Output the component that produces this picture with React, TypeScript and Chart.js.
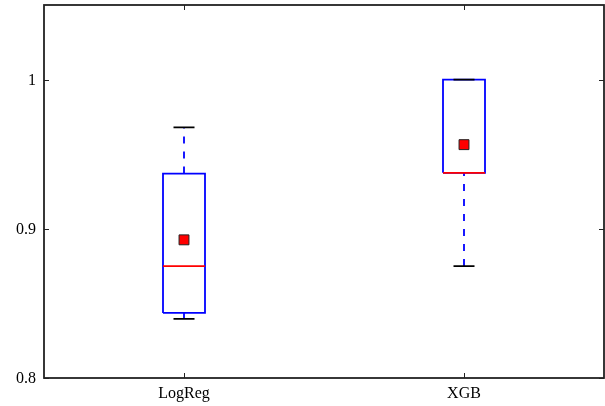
import React, { useEffect, useRef } from "react";
import { Chart, registerables } from "chart.js";

Chart.register(...registerables);

const categories = ["LogReg", "XGB"];
const positions = [1, 2];
const whiskerLow = [0.8396, 0.875];
const q1 = [0.8436, 0.9375];
const medians = [0.875, 0.9375];
const q3 = [0.937, 1.0];
const whiskerHigh = [0.968, 1.0];
const means = [0.8926, 0.9564];
const yTickValues = [0.8, 0.9, 1];
const yTickLabels = ["0.8", "0.9", "1"];

const BOX_HALF = 0.075;
const CAP_HALF = 0.0375;
const FONT = "'Liberation Serif', 'DejaVu Serif', serif";
const AXIS_COLOR = "#222222";

type P = { x: number; y: number | null };

const gap = (x: number): P => ({ x, y: null });

function buildBoxes(): P[] {
  const pts: P[] = [];
  positions.forEach((x, i) => {
    pts.push({ x: x - BOX_HALF, y: q1[i] });
    pts.push({ x: x + BOX_HALF, y: q1[i] });
    pts.push({ x: x + BOX_HALF, y: q3[i] });
    pts.push({ x: x - BOX_HALF, y: q3[i] });
    pts.push({ x: x - BOX_HALF, y: q1[i] });
    pts.push(gap(x));
  });
  return pts;
}

function buildWhiskers(): P[] {
  const pts: P[] = [];
  positions.forEach((x, i) => {
    pts.push({ x, y: q3[i] });
    pts.push({ x, y: whiskerHigh[i] });
    pts.push(gap(x));
    pts.push({ x, y: whiskerLow[i] });
    pts.push({ x, y: q1[i] });
    pts.push(gap(x));
  });
  return pts;
}

function buildCaps(): P[] {
  const pts: P[] = [];
  positions.forEach((x, i) => {
    pts.push({ x: x - CAP_HALF, y: whiskerHigh[i] });
    pts.push({ x: x + CAP_HALF, y: whiskerHigh[i] });
    pts.push(gap(x));
    pts.push({ x: x - CAP_HALF, y: whiskerLow[i] });
    pts.push({ x: x + CAP_HALF, y: whiskerLow[i] });
    pts.push(gap(x));
  });
  return pts;
}

function buildMedians(): P[] {
  const pts: P[] = [];
  positions.forEach((x, i) => {
    pts.push({ x: x - BOX_HALF, y: medians[i] });
    pts.push({ x: x + BOX_HALF, y: medians[i] });
    pts.push(gap(x));
  });
  return pts;
}

const framePlugin = {
  id: "mplFrame",
  afterDatasetsDraw(chart: any) {
    const { ctx, chartArea, scales } = chart;
    const { left, right, top, bottom } = chartArea;
    ctx.save();
    ctx.strokeStyle = AXIS_COLOR;
    ctx.lineWidth = 1;
    const len = 5;
    ctx.beginPath();
    positions.forEach((v) => {
      const px = Math.round(scales.x.getPixelForValue(v)) + 0.5;
      ctx.moveTo(px, bottom);
      ctx.lineTo(px, bottom - len);
      ctx.moveTo(px, top);
      ctx.lineTo(px, top + len);
    });
    yTickValues.forEach((v) => {
      const py = Math.round(scales.y.getPixelForValue(v)) + 0.5;
      ctx.moveTo(left, py);
      ctx.lineTo(left + len, py);
      ctx.moveTo(right, py);
      ctx.lineTo(right - len, py);
    });
    ctx.stroke();
    ctx.lineWidth = 1.8;
    ctx.strokeRect(left, top, right - left, bottom - top);

    ctx.fillStyle = "#000000";
    ctx.font = `16px ${FONT}`;
    ctx.textAlign = "right";
    ctx.textBaseline = "middle";
    yTickValues.forEach((v, i) => {
      ctx.fillText(yTickLabels[i], left - 8, scales.y.getPixelForValue(v) + 1);
    });
    ctx.textAlign = "center";
    ctx.textBaseline = "alphabetic";
    positions.forEach((v, i) => {
      ctx.fillText(categories[i], scales.x.getPixelForValue(v), bottom + 20);
    });
    ctx.restore();
  },
};

export default function App() {
  const canvasRef = useRef<HTMLCanvasElement | null>(null);

  useEffect(() => {
    document.body.style.margin = "0";
    const canvas = canvasRef.current;
    if (!canvas) return;
    const chart = new Chart(canvas, {
      type: "line",
      data: {
        datasets: [
          {
            label: "means",
            data: positions.map((x, i) => ({ x, y: means[i] })),
            showLine: false,
            pointStyle: "rect",
            pointRadius: 7,
            pointBackgroundColor: "#ff0000",
            pointBorderColor: "#222222",
            pointBorderWidth: 1,
            order: 0,
          },
          {
            label: "medians",
            data: buildMedians(),
            borderColor: "#ff0000",
            borderWidth: 1.6,
            pointRadius: 0,
            spanGaps: false,
            order: 1,
          },
          {
            label: "caps",
            data: buildCaps(),
            borderColor: "#000000",
            borderWidth: 1.8,
            pointRadius: 0,
            spanGaps: false,
            order: 2,
          },
          {
            label: "whiskers",
            data: buildWhiskers(),
            borderColor: "#0000ff",
            borderWidth: 1.8,
            borderDash: [7, 8],
            pointRadius: 0,
            spanGaps: false,
            order: 3,
          },
          {
            label: "boxes",
            data: buildBoxes(),
            borderColor: "#0000ff",
            borderWidth: 1.8,
            pointRadius: 0,
            spanGaps: false,
            order: 4,
          },
        ],
      },
      options: {
        animation: false,
        responsive: false,
        maintainAspectRatio: false,
        parsing: false,
        layout: { autoPadding: false, padding: { top: 5, right: 1, left: 0, bottom: 0 } },
        plugins: {
          legend: { display: false },
          tooltip: { enabled: false },
        },
        scales: {
          x: {
            type: "linear",
            min: 0.5,
            max: 2.5,
            grid: { display: false },
            border: { display: false },
            ticks: { display: false },
            afterFit: (s: any) => {
              s.height = 28;
            },
          },
          y: {
            type: "linear",
            min: 0.8,
            max: 1.05,
            grid: { display: false },
            border: { display: false },
            ticks: { display: false },
            afterFit: (s: any) => {
              s.width = 44;
            },
          },
        },
      },
      plugins: [framePlugin],
    });
    return () => chart.destroy();
  }, []);

  return (
    <div style={{ width: 605, height: 406 }}>
      <canvas ref={canvasRef} width={605} height={406} style={{ display: "block" }} />
    </div>
  );
}
